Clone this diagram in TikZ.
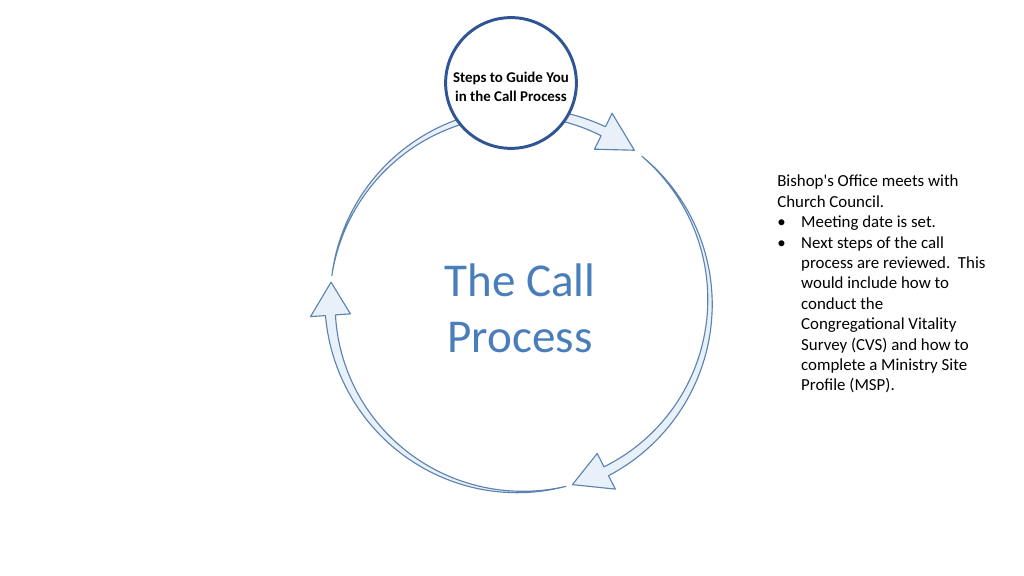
\documentclass[tikz,border=0pt]{standalone}
\usepackage{fontspec}
\setmainfont{Carlito}
\usetikzlibrary{positioning}
\definecolor{anelborda}{RGB}{92,130,175}
\definecolor{anelfundo}{RGB}{232,240,249}
\definecolor{circuloazul}{RGB}{47,85,151}
\definecolor{tituloazul}{RGB}{74,126,187}

\tikzset{
    ringarrow/.style={draw=anelborda, fill=anelfundo, line width=0.8pt, line join=round},
    topcircle/.style={circle, draw=circuloazul, fill=white, line width=2.1pt, minimum size=93pt, inner sep=0pt},
    stepstext/.style={align=center, inner sep=0pt, font=\bfseries\fontsize{10.6}{13.5}\selectfont},
    calltitle/.style={text=tituloazul, align=center, font=\fontsize{33.5}{40}\selectfont},
    notetext/.style={anchor=north west, inner sep=0pt, align=left, font=\fontsize{12}{14.5}\selectfont}
}

\begin{document}
\begin{tikzpicture}[x=0.025cm, y=0.025cm]
    % Page frame
    \useasboundingbox (0,0) rectangle (1024,576);
    % Ring of three tapered arrows, centre (520,274), radius 190
    \begin{scope}[shift={(520,274)}]
        \def\r{190}
        \def\hw{5}
        \def\hh{20}
        \foreach \a/\b/\c in {172/64/53, 50/-63/-74, -76/-176/-186} {
            \draw[ringarrow]
                plot[domain=\a:\b, samples=60] (\x:{\r+\hw*(\x-\a)/(\b-\a)})
                -- (\b:{\r+\hh}) -- (\c:\r) -- (\b:{\r-\hh})
                -- plot[domain=\b:\a, samples=60] (\x:{\r-\hw*(\x-\a)/(\b-\a)})
                -- cycle;
        }
    \end{scope}
    % Top circle
    \node[topcircle] (steps) at (511,493) {};
    \node[stepstext] (stepslabel) at ([yshift=-3]steps.center) {Steps to Guide You\\in the Call Process};
    % Centre title
    \node[calltitle] (title) at (520,268) {The Call\\Process};
    % Notes on the right
    \node[notetext] (notes) at (777,401) {%
        \begin{minipage}{150pt}
        \raggedright\hyphenpenalty=10000\exhyphenpenalty=10000
        Bishop\textquotesingle s Office meets with\\
        Church Council.
        \begin{list}{\makebox[0pt][l]{\textbullet}}{\leftmargin=17pt\labelwidth=0pt\labelsep=17pt\itemsep=0pt\parsep=0pt\topsep=0pt\partopsep=0pt}
        \raggedright
        \item Meeting date is set.
        \item Next steps of the call process are reviewed.\ \ This would include how to conduct the Congregational Vitality Survey (CVS) and how to complete a Ministry Site Profile (MSP).
        \end{list}
        \end{minipage}};
\end{tikzpicture}
\end{document}
